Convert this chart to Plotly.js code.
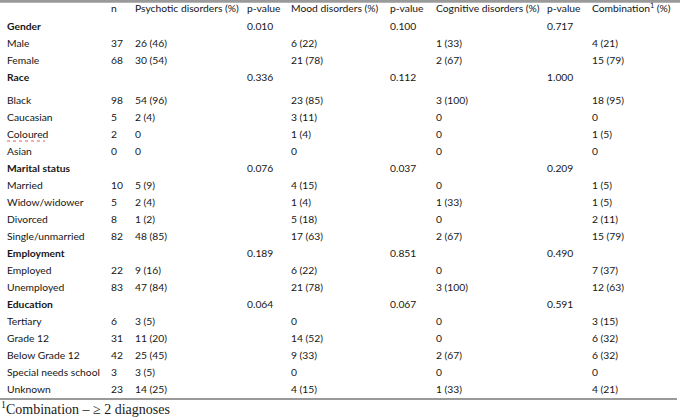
<!DOCTYPE html>
<html>
<head>
<meta charset="utf-8">
<script src="https://cdn.plot.ly/plotly-3.0.1.min.js"></script>
<style>html,body{margin:0;padding:0;background:#fff;}#chart{width:680px;height:418px;}</style>
</head>
<body>
<div id="chart"></div>
<script>
// ---- table data ----
const headers = ["n", "Psychotic disorders (%)", "p-value", "Mood disorders (%)", "p-value", "Cognitive disorders (%)", "p-value", "Combination<sup>1</sup> (%)"];
const rowLabels = ["Gender", "Male", "Female", "Race", "Black", "Caucasian", "Coloured", "Asian",
  "Marital status", "Married", "Widow/widower", "Divorced", "Single/unmarried",
  "Employment", "Employed", "Unemployed",
  "Education", "Tertiary", "Grade 12", "Below Grade 12", "Special needs school", "Unknown"];
const isSection = [true, false, false, true, false, false, false, false,
  true, false, false, false, false,
  true, false, false,
  true, false, false, false, false, false];
const nValues = ["", "37", "68", "", "98", "5", "2", "0",
  "", "10", "5", "8", "82",
  "", "22", "83",
  "", "6", "31", "42", "3", "23"];
const psychotic = ["", "26 (46)", "30 (54)", "", "54 (96)", "2 (4)", "0", "0",
  "", "5 (9)", "2 (4)", "1 (2)", "48 (85)",
  "", "9 (16)", "47 (84)",
  "", "3 (5)", "11 (20)", "25 (45)", "3 (5)", "14 (25)"];
const pPsychotic = ["0.010", "", "", "0.336", "", "", "", "",
  "0.076", "", "", "", "",
  "0.189", "", "",
  "0.064", "", "", "", "", ""];
const mood = ["", "6 (22)", "21 (78)", "", "23 (85)", "3 (11)", "1 (4)", "0",
  "", "4 (15)", "1 (4)", "5 (18)", "17 (63)",
  "", "6 (22)", "21 (78)",
  "", "0", "14 (52)", "9 (33)", "0", "4 (15)"];
const pMood = ["0.100", "", "", "0.112", "", "", "", "",
  "0.037", "", "", "", "",
  "0.851", "", "",
  "0.067", "", "", "", "", ""];
const cognitive = ["", "1 (33)", "2 (67)", "", "3 (100)", "0", "0", "0",
  "", "0", "1 (33)", "0", "2 (67)",
  "", "0", "3 (100)",
  "", "0", "0", "2 (67)", "0", "1 (33)"];
const pCognitive = ["0.717", "", "", "1.000", "", "", "", "",
  "0.209", "", "", "", "",
  "0.490", "", "",
  "0.591", "", "", "", "", ""];
const combination = ["", "4 (21)", "15 (79)", "", "18 (95)", "0", "1 (5)", "0",
  "", "1 (5)", "1 (5)", "2 (11)", "15 (79)",
  "", "7 (37)", "12 (63)",
  "", "3 (15)", "6 (32)", "6 (32)", "0", "4 (21)"];
const footnote = "<sup>1</sup>Combination – ≥ 2 diagnoses";

// ---- layout constants ----
const colX = [7, 111, 135, 247, 291, 390, 436, 547, 592];
const headerY = 9.5;
const firstRowY = 27;
const rowStep = 17.0;
const raceGap = 6;   // extra space after the "Race" row
function rowY(i) { return firstRowY + i * rowStep + (i >= 4 ? raceGap : 0); }

const FONT = "Lato, 'Noto Sans', sans-serif";
const TXT = "#161616";
const FS = 10.3;

const columns = [
  rowLabels.map((s, i) => isSection[i] ? "<b>" + s + "</b>" : s),
  nValues, psychotic, pPsychotic, mood, pMood, cognitive, pCognitive, combination
];

const traces = [];
// header row (columns 1..8)
traces.push({
  type: "scatter", mode: "text", hoverinfo: "skip", showlegend: false,
  x: colX.slice(1), y: headers.map(() => headerY), text: headers,
  textposition: "middle right",
  textfont: {family: FONT, size: FS, color: TXT}
});
columns.forEach((col, c) => {
  const xs = [], ys = [], ts = [];
  col.forEach((v, i) => { if (v !== "") { xs.push(colX[c]); ys.push(rowY(i)); ts.push(v); } });
  traces.push({
    type: "scatter", mode: "text", hoverinfo: "skip", showlegend: false,
    x: xs, y: ys, text: ts,
    textposition: "middle right",
    textfont: {family: FONT, size: FS, color: TXT}
  });
});

const ulY = rowY(rowLabels.indexOf("Coloured")) + 6;
const layout = {
  width: 680, height: 418,
  margin: {l: 0, r: 0, t: 0, b: 0},
  paper_bgcolor: "#ffffff", plot_bgcolor: "#ffffff",
  xaxis: {range: [0, 680], visible: false, fixedrange: true},
  yaxis: {range: [418, 0], visible: false, fixedrange: true},
  shapes: [
    {type: "line", xref: "x", yref: "y", x0: 0, x1: 680, y0: 1.2, y1: 1.2, line: {color: "#9a9a9a", width: 3}},
    {type: "line", xref: "x", yref: "y", x0: 0, x1: 677, y0: 399, y1: 399, line: {color: "#9a9a9a", width: 2}},
    {type: "line", xref: "x", yref: "y", x0: 7, x1: 45, y0: ulY, y1: ulY, line: {color: "#e06060", width: 1, dash: "dot"}}
  ],
  annotations: [{
    xref: "paper", yref: "paper", x: 0, y: 0, xanchor: "left", yanchor: "bottom",
    text: footnote, showarrow: false, borderpad: 0,
    font: {family: "'Liberation Serif', 'Times New Roman', serif", size: 14, color: "#1a1a1a"}
  }]
};

Plotly.newPlot("chart", traces, layout, {staticPlot: true, displayModeBar: false});
</script>
</body>
</html>
